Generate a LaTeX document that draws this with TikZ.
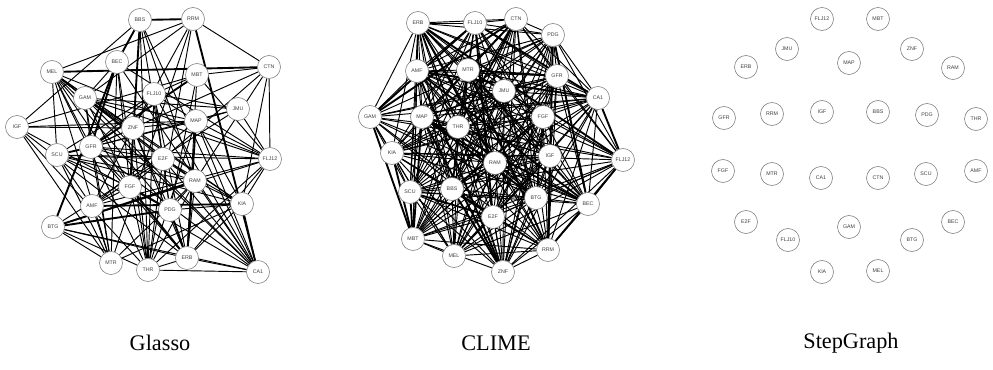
\documentclass[tikz,border=0pt]{standalone}
\usepackage{fontspec}
\setmainfont{Liberation Serif}
\setsansfont{Liberation Sans}
\usepackage{tikz}
\usetikzlibrary{shapes.geometric, backgrounds}
\tikzset{
  gnode/.style={circle, draw=black!55, fill=white, line width=0.45pt,
                minimum size=0.69cm, inner sep=0pt,
                font=\sffamily\fontsize{4.5}{5}\selectfont, text=black!75},
  edge/.style={draw=black, line width=0.8pt},
  heavyedge/.style={draw=black, line width=1.6pt},
  paneltitle/.style={font=\fontsize{19}{22}\selectfont},
}

% node lists of the three panels: name/x/y (pixels)
\def\glassonodes{BBS/140/20, RRM/193/19, MEL/52/72, BEC/117/62, CTN/269/67,
  MBT/197/75, GAM/85/98, FLJ10/154/94, JMU/238/109, MAP/196/121, IGF/17/127,
  ZNF/133/128, GFR/91/147, SCU/57/155, E2F/163/159, FLJ12/270/159,
  RAM/195/181, FGF/130/187, KIA/242/204, AMF/92/206, PDG/170/210,
  BTG/53/227, ERB/187/258, MTR/111/263, THR/148/270, CA1/258/272}
\def\climenodes{ERB/418/23, FLJ10/475/23, CTN/516/19, PDG/553/35,
  AMF/417/71, MTR/468/70, GFR/557/76, JMU/504/91, CA1/598/98, GAM/370/117,
  MAP/422/117, THR/458/127, FGF/543/117, KIA/392/153, RAM/495/163,
  IGF/550/156, FLJ12/623/160, SCU/410/192, BBS/452/189, BTG/536/198,
  BEC/588/204, E2F/493/217, MBT/413/239, MEL/454/256, RRM/548/250,
  ZNF/503/272}
\def\stepnodes{FLJ12/822/19, MBT/878/19, JMU/787/49, ZNF/912/49,
  ERB/746/67, MAP/849/63, RAM/953/68, GFR/724/118, RRM/772/114,
  IGF/822/112, BBS/878/112, PDG/927/115, THR/976/119, FGF/723/171,
  MTR/772/174, CA1/821/178, CTN/878/178, SCU/926/174, AMF/976/171,
  E2F/746/222, GAM/849/227, BEC/953/222, FLJ10/788/240, BTG/912/240,
  KIA/822/272, MEL/878/271}

\begin{document}
\begin{tikzpicture}[x=0.03cm, y=-0.03cm]

  \useasboundingbox (0,0) rectangle (993,370);

  % =====================================================
  % NODES
  % =====================================================

  \foreach \nm/\px/\py in \glassonodes
    \node[gnode] (g\nm) at (\px,\py) {\nm};

  \foreach \nm/\px/\py in \climenodes
    \node[gnode] (c\nm) at (\px,\py) {\nm};

  \foreach \nm/\px/\py in \stepnodes
    \node[gnode] (s\nm) at (\px,\py) {\nm};


  % =====================================================
  % EDGES (estimated graphs)
  % =====================================================

  \begin{scope}[on background layer]
    \pgfmathsetseed{4172}
    \foreach \a/\ax/\ay [count=\i] in \glassonodes {
      \foreach \b/\bx/\by [count=\j] in \glassonodes {
        \ifnum\j>\i\relax
          \pgfmathrandominteger{\rnd}{1}{100}
          \pgfmathrandominteger{\thk}{1}{100}
          \ifnum\rnd<46\relax
            \ifnum\thk<10\relax
              \draw[heavyedge] (g\a) -- (g\b);
            \else
              \draw[edge] (g\a) -- (g\b);
            \fi
          \fi
        \fi
      }
    }

    \pgfmathsetseed{9311}
    \foreach \a/\ax/\ay [count=\i] in \climenodes {
      \foreach \b/\bx/\by [count=\j] in \climenodes {
        \ifnum\j>\i\relax
          \pgfmathrandominteger{\rnd}{1}{100}
          \pgfmathrandominteger{\thk}{1}{100}
          \ifnum\rnd<82\relax
            \ifnum\thk<12\relax
              \draw[heavyedge] (c\a) -- (c\b);
            \else
              \draw[edge] (c\a) -- (c\b);
            \fi
          \fi
        \fi
      }
    }
  \end{scope}


  % =====================================================
  % TITLES
  % =====================================================

  \node[paneltitle] (tglasso) at (160,343) {Glasso};
  \node[paneltitle] (tclime) at (496,343) {CLIME};
  \node[paneltitle] (tstep) at (851,343) {StepGraph};

\end{tikzpicture}
\end{document}
